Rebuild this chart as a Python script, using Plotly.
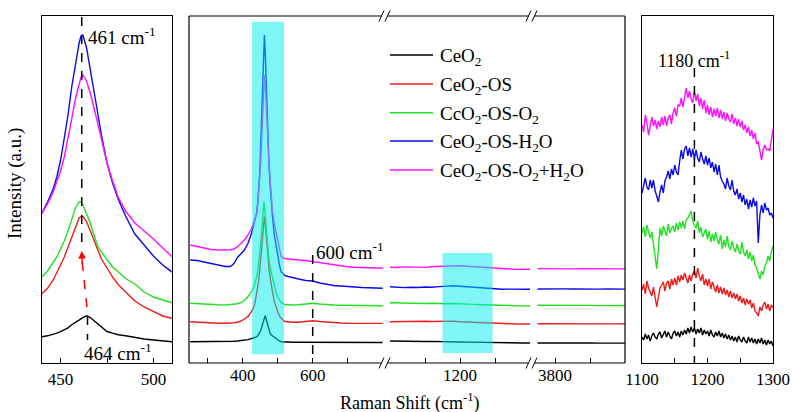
import plotly.graph_objects as go

# ---------------- data ----------------
# Raman shift sampling (cm-1) of the low-frequency window (F2g band)
shift_low = [250, 270, 290, 310, 330, 350, 365, 375, 385, 395, 405, 415, 425, 432, 436,
             440, 443, 446, 448, 450, 452, 454, 456, 458, 460,
             461, 462, 464, 466, 468, 470, 472, 475, 478, 481,
             485, 490, 495, 500, 505, 510,
             520, 530, 545, 560, 580, 600, 620, 640, 660, 680, 700, 720, 740, 760, 780, 800]

black_low = [21.3, 21.3, 21.2, 21.2, 21.3, 21.4, 21.5, 21.7, 22.0, 22.3, 22.8, 23.4, 24.3, 25.0, 25.6,
             26.3, 27.2, 28.6, 29.8, 31.3, 33.0, 35.2, 38.3, 41.0, 43.3,
             44.2, 45.4, 47.2, 45.5, 42.5, 39.0, 36.0, 31.5, 29.8, 28.3,
             27.2, 25.4, 24.0, 23.0, 22.0, 21.3,
             21.0, 20.9, 20.8, 20.8, 20.8, 20.8, 20.7, 20.7, 20.7, 20.7, 20.6, 20.6, 20.6, 20.6, 20.6, 20.5]
red_low = [41.3, 40.8, 40.4, 40.1, 39.8, 39.7, 39.8, 40.2, 40.8, 42.0, 44.0, 46.3, 51.3, 56.3, 62.0,
           69.7, 74.7, 83.0, 90.0, 98.0, 106.0, 116.0, 127.0, 137.0, 145.0,
           146.3, 146.5, 141.5, 132.0, 122.0, 112.0, 104.0, 95.0, 86.0, 78.5,
           71.5, 62.0, 56.0, 51.5, 47.0, 44.7,
           41.5, 41.0, 40.7, 40.8, 41.5, 42.3, 41.5, 40.8, 40.3, 40.0, 39.7, 39.7, 39.7, 39.6, 39.6, 39.6]
green_low = [59.7, 59.2, 58.8, 58.5, 58.2, 58.0, 58.3, 58.8, 59.3, 60.5, 62.5, 66.3, 71.3, 76.3, 81.0,
             86.3, 92.0, 99.7, 106.0, 114.0, 122.0, 132.0, 143.0, 155.0, 161.0,
             161.3, 158.5, 150.0, 139.7, 128.0, 117.0, 111.0, 103.0, 96.0, 91.3,
             84.5, 79.0, 71.0, 66.0, 63.0, 60.3,
             58.5, 58.0, 58.0, 58.3, 59.0, 59.7, 59.0, 58.3, 58.0, 57.8, 57.7, 57.5, 57.4, 57.3, 57.3, 57.3]
blue_low = [103.0, 102.5, 101.0, 99.5, 97.5, 96.5, 96.5, 99.5, 105.5, 109.5, 113.0, 119.5, 129.5, 139.0, 145.0,
            150.0, 161.0, 174.0, 186.0, 203.0, 225.0, 248.0, 276.0, 300.0, 320.0,
            327.0, 328.0, 315.0, 292.0, 272.0, 250.0, 228.0, 200.0, 180.0, 164.0,
            147.0, 129.0, 118.0, 107.0, 98.0, 91.0,
            87.5, 86.5, 85.0, 84.0, 82.5, 82.0, 80.0, 78.5, 77.5, 77.0, 76.3, 76.0, 75.5, 75.2, 75.0, 74.7]
magenta_low = [118.0, 116.5, 114.5, 113.5, 113.0, 113.0, 113.2, 114.0, 116.3, 119.5, 123.0, 128.0, 134.5, 141.0, 145.5,
               150.0, 159.0, 171.0, 181.0, 192.0, 206.0, 224.0, 244.0, 264.0, 280.0,
               286.0, 288.0, 282.0, 270.0, 256.0, 240.0, 224.0, 200.0, 182.0, 166.0,
               152.0, 140.0, 132.0, 124.0, 115.0, 106.3,
               104.5, 104.0, 103.5, 103.0, 102.5, 101.5, 100.0, 98.8, 97.8, 97.0, 96.3, 95.8, 95.4, 95.0, 94.8, 94.7]

# 1000-1400 cm-1 window
shift_mid = [1000, 1020, 1040, 1060, 1080, 1100, 1120, 1140, 1160, 1180, 1200,
             1220, 1240, 1260, 1280, 1300, 1320, 1340, 1360, 1380, 1400]
black_mid = [22.0, 21.8, 21.9, 21.6, 21.7, 21.5, 21.6, 21.3, 21.4, 21.2, 21.0,
             20.9, 20.7, 20.5, 20.4, 20.3, 20.2, 20.1, 20.2, 20.0, 20.0]
red_mid = [41.3, 41.5, 41.2, 41.6, 41.4, 41.7, 41.5, 41.8, 41.7, 41.9, 41.3,
           41.0, 40.6, 40.1, 39.7, 39.3, 39.0, 39.2, 39.0, 39.1, 39.0]
green_mid = [60.3, 60.0, 59.8, 60.1, 59.7, 59.5, 59.8, 59.4, 59.3, 59.5, 59.0,
             58.8, 58.6, 58.3, 58.0, 57.8, 57.6, 57.4, 57.2, 57.1, 57.0]
blue_mid = [76.3, 75.9, 75.4, 75.8, 75.5, 76.0, 75.8, 76.4, 76.9, 77.3, 76.8,
            76.2, 75.6, 75.0, 74.4, 74.0, 73.7, 73.9, 73.6, 73.8, 73.7]
magenta_mid = [95.8, 95.5, 96.1, 95.7, 96.0, 95.6, 96.2, 96.5, 97.0, 97.4, 97.2,
               96.8, 96.3, 95.6, 95.0, 94.3, 93.8, 94.0, 93.6, 93.9, 93.7]

# 3750-4000 cm-1 window
shift_high = [3750, 3775, 3800, 3825, 3850, 3875, 3900, 3925, 3950, 3975, 4000]
black_high = [20.0, 20.1, 19.9, 20.0, 20.1, 19.9, 20.0, 19.9, 20.0, 20.0, 19.9]
red_high = [39.3, 39.2, 39.4, 39.3, 39.2, 39.3, 39.1, 39.3, 39.2, 39.1, 39.2]
green_high = [57.7, 57.8, 57.6, 57.7, 57.5, 57.7, 57.6, 57.4, 57.6, 57.5, 57.5]
blue_high = [74.0, 74.2, 73.9, 74.1, 74.0, 73.8, 74.1, 73.9, 74.0, 73.8, 73.9]
magenta_high = [94.4, 94.2, 94.5, 94.3, 94.1, 94.4, 94.2, 94.3, 94.0, 94.2, 94.1]

# Expanded 1100-1300 cm-1 region (sampled every 2.5 cm-1)
shift_zoom = [1100 + 2.5 * i for i in range(81)]
black_zoom = [26, 23, 29, 24, 28, 22, 27, 30, 26, 24,
              29, 31, 25, 29, 32, 26, 31, 27, 24, 30,
              32, 27, 31, 26, 32, 28, 33, 29, 35, 30,
              36, 31, 35, 29, 34, 30, 35, 28, 33, 29,
              32, 27, 33, 28, 26, 31, 27, 32, 26, 30,
              25, 29, 24, 28, 23, 27, 22, 26, 21, 27,
              23, 21, 26, 22, 20, 26, 21, 25, 20, 24,
              19, 24, 20, 25, 19, 23, 18, 23, 19, 22, 17]
red_zoom = [73, 79, 69, 82, 75, 70, 67, 76, 64, 56,
            66, 75, 78, 81, 72, 80, 82, 74, 84, 78,
            85, 78, 87, 81, 88, 83, 90, 84, 80, 88,
            82, 89, 92, 85, 95, 87, 82, 89, 78, 84,
            77, 84, 74, 81, 76, 71, 78, 70, 76, 69,
            75, 68, 73, 66, 72, 65, 70, 64, 69, 62,
            67, 60, 65, 58, 64, 59, 63, 55, 60, 52,
            50, 47, 56, 52, 58, 61, 54, 59, 52, 58, 55]
green_zoom = [130, 136, 126, 138, 131, 125, 131, 120, 108, 94,
              114, 135, 127, 137, 132, 127, 139, 130, 135, 137,
              131, 140, 133, 141, 135, 142, 134, 143, 145, 148,
              152, 142, 137, 135, 142, 130, 136, 126, 131, 134,
              124, 132, 121, 129, 122, 131, 123, 119, 128, 114,
              123, 116, 127, 117, 113, 122, 115, 111, 119, 112,
              109, 121, 111, 107, 113, 104, 111, 102, 108, 98,
              95, 90, 84, 92, 88, 97, 100, 107, 102, 111, 117]
blue_zoom = [170, 178, 185, 176, 173, 183, 175, 183, 172, 167,
             161, 171, 178, 170, 182, 186, 192, 184, 194, 188,
             198, 191, 188, 202, 213, 204, 214, 217, 207, 215,
             206, 214, 204, 213, 205, 201, 211, 204, 199, 207,
             198, 205, 195, 201, 191, 199, 188, 198, 186, 182,
             179, 174, 185, 177, 173, 183, 172, 168, 174, 164,
             170, 161, 168, 158, 164, 154, 163, 156, 165, 157,
             162, 120, 148, 158, 150, 160, 153, 155, 148, 150, 145]
magenta_zoom = [238, 231, 248, 240, 228, 238, 246, 237, 243, 234,
                242, 236, 246, 238, 247, 237, 245, 248, 239, 250,
                255, 247, 258, 257, 265, 256, 268, 275, 265, 272,
                264, 260, 272, 262, 269, 257, 265, 254, 263, 250,
                258, 248, 256, 246, 254, 247, 255, 245, 253, 244,
                251, 242, 250, 244, 241, 249, 239, 245, 237, 244,
                236, 242, 233, 238, 230, 236, 227, 233, 224, 230,
                220, 221, 212, 203, 213, 218, 213, 214, 212, 221, 234]

names = ["CeO<sub>2</sub>", "CeO<sub>2</sub>-OS", "CcO<sub>2</sub>-OS-O<sub>2</sub>",
         "CeO<sub>2</sub>-OS-H<sub>2</sub>O", "CeO<sub>2</sub>-OS-O<sub>2</sub>+H<sub>2</sub>O"]
colors = ["#000000", "#ee1c1c", "#22e022", "#0a0ae6", "#ff10ff"]

low_sets = [black_low, red_low, green_low, blue_low, magenta_low]
mid_sets = [black_mid, red_mid, green_mid, blue_mid, magenta_mid]
high_sets = [black_high, red_high, green_high, blue_high, magenta_high]
zoom_sets = [black_zoom, red_zoom, green_zoom, blue_zoom, magenta_zoom]

# ---------------- layout geometry ----------------
W, H = 792, 412
SERIF = "Liberation Serif"


def fx(p):
    return p / W


def fy(p):
    return 1 - p / H


TOP, BOT = 16, 363
ydom = [fy(BOT), fy(TOP)]
YR = [0, 347]

fig = go.Figure()

panel_axes = [
    ("x", "y", shift_low, low_sets),      # left zoom on the F2g peak
    ("x2", "y2", shift_low, low_sets),    # broken axis, part 1
    ("x3", "y2", shift_mid, mid_sets),    # broken axis, part 2
    ("x4", "y2", shift_high, high_sets),  # broken axis, part 3
    ("x5", "y3", shift_zoom, zoom_sets),  # right zoom on 1180 cm-1
]
for xa, ya, xs, sets in panel_axes:
    for name, col, ys in zip(names, colors, sets):
        fig.add_trace(go.Scatter(x=xs, y=ys, mode="lines", name=name, showlegend=False,
                                 line=dict(color=col, width=1.4), xaxis=xa, yaxis=ya,
                                 hoverinfo="skip"))

tick_font = dict(family=SERIF, size=17, color="black")
common_x = dict(ticks="inside", ticklen=5, tickwidth=1, tickcolor="black", showgrid=False,
                zeroline=False, tickfont=tick_font, tickmode="array", ticklabelstandoff=0)
frame = dict(showline=True, mirror=True, linecolor="black", linewidth=1.2)
hidden_y = dict(range=YR, domain=ydom, showgrid=False, zeroline=False, showticklabels=False, ticks="")

fig.update_layout(
    width=W, height=H, margin=dict(l=0, r=0, t=0, b=0, autoexpand=False),
    paper_bgcolor="white", plot_bgcolor="white",
    font=dict(family=SERIF, color="black"),
    xaxis=dict(domain=[fx(42), fx(172)], range=[440, 510], anchor="y",
               tickvals=[450, 475, 500], ticktext=["450", "", "500"], **common_x, **frame),
    yaxis=dict(anchor="x", **hidden_y, **frame),
    xaxis2=dict(domain=[fx(189), fx(385)], range=[246.6, 806.6], anchor="y2",
                tickvals=[300, 400, 500, 600, 700], ticktext=["", "400", "", "600", ""],
                showline=False, **common_x),
    xaxis3=dict(domain=[fx(385), fx(532)], range=[985.7, 1405.7], anchor="y2",
                tickvals=[1100, 1200, 1300], ticktext=["", "1200", ""],
                showline=False, **common_x),
    xaxis4=dict(domain=[fx(532), fx(625)], range=[3734.3, 4000], anchor="y2",
                tickvals=[3800, 3900], ticktext=["3800", ""],
                showline=False, **common_x),
    yaxis2=dict(anchor="x2", showline=False, **hidden_y),
    xaxis5=dict(domain=[fx(642), fx(773)], range=[1100, 1300], anchor="y3",
                tickvals=[1100, 1150, 1200, 1250, 1300], ticktext=["1100", "", "1200", "", "1300"],
                **common_x, **frame),
    yaxis3=dict(anchor="x5", **hidden_y, **frame),
)

shapes = []
# frame of the broken-axis panel, with gaps at the breaks
black_line = dict(color="black", width=1.2)
for yp in (TOP, BOT):
    for x0, x1 in ((189, 381.5), (387.5, 528.5), (534.5, 625)):
        shapes.append(dict(type="line", xref="paper", yref="paper", x0=fx(x0), x1=fx(x1),
                           y0=fy(yp), y1=fy(yp), line=black_line))
    for c in (385, 532):
        for off in (-3.5, 2.5):
            shapes.append(dict(type="line", xref="paper", yref="paper",
                               x0=fx(c + off - 2.5), x1=fx(c + off + 2.5),
                               y0=fy(yp + 5.5), y1=fy(yp - 5.5), line=dict(color="black", width=1)))
for xp in (189, 625):
    shapes.append(dict(type="line", xref="paper", yref="paper", x0=fx(xp), x1=fx(xp),
                       y0=fy(BOT), y1=fy(TOP), line=black_line))

# highlighted bands
band = dict(type="rect", layer="above", line=dict(width=0), fillcolor="rgba(0,235,235,0.5)")
shapes.append(dict(band, xref="x2", yref="y2", x0=427, x1=518, y0=8.7, y1=341.3))
shapes.append(dict(band, xref="x3", yref="y2", x0=1150, x1=1293, y0=10, y1=110))

# guide lines
dash = dict(color="black", width=1.5, dash="dash")
shapes.append(dict(type="line", xref="x", yref="y", x0=461.4, x1=461.4, y0=346, y1=113, line=dash))
shapes.append(dict(type="line", xref="x", yref="y", x0=464.5, x1=464.5, y0=47, y1=23, line=dash))
shapes.append(dict(type="line", xref="x", yref="y", x0=464.2, x1=461.6, y0=56, y1=102,
                   line=dict(color="red", width=1.5, dash="dash")))
shapes.append(dict(type="line", xref="x2", yref="y2", x0=600, x1=600, y0=108, y1=0, line=dash))
shapes.append(dict(type="line", xref="x5", yref="y3", x0=1180, x1=1180, y0=295, y1=0, line=dash))

# legend keys
legend_rows = [55, 84, 112.7, 141, 170]
for col, yp in zip(colors, legend_rows):
    shapes.append(dict(type="line", xref="paper", yref="paper", x0=fx(390), x1=fx(433),
                       y0=fy(yp), y1=fy(yp), line=dict(color=col, width=1.4)))
fig.update_layout(shapes=shapes)

ann_font = dict(family=SERIF, size=19, color="black")
annotations = [
    dict(xref="x", yref="y", x=461.4, y=112, ax=461.7, ay=97, axref="x", ayref="y",
         showarrow=True, arrowhead=2, arrowsize=1, arrowwidth=1.5, arrowcolor="red", text=""),
    dict(xref="x", yref="y", x=461.4, y=327, xanchor="left", yanchor="middle", xshift=4,
         text="461 cm<sup>-1</sup>", showarrow=False, font=ann_font),
    dict(xref="x", yref="y", x=464.5, y=11, xanchor="left", yanchor="middle", xshift=-6,
         text="464 cm<sup>-1</sup>", showarrow=False, font=ann_font),
    dict(xref="x2", yref="y2", x=600, y=112, xanchor="left", yanchor="middle", xshift=1,
         text="600 cm<sup>-1</sup>", showarrow=False, font=ann_font),
    dict(xref="x5", yref="y3", x=1180, y=303, xanchor="center", yanchor="middle",
         text="1180 cm<sup>-1</sup>", showarrow=False, font=dict(family=SERIF, size=18, color="black")),
    dict(xref="paper", yref="paper", x=fx(15), y=fy(184), textangle=-90, showarrow=False,
         text="Intensity (a.u.)", font=ann_font, xanchor="center", yanchor="middle"),
    dict(xref="paper", yref="paper", x=fx(409), y=fy(402), showarrow=False,
         text="Raman Shift (cm<sup>-1</sup>)", font=dict(family=SERIF, size=18, color="black"),
         xanchor="center", yanchor="middle"),
]
for name, yp in zip(names, legend_rows):
    annotations.append(dict(xref="paper", yref="paper", x=fx(438), y=fy(yp), xanchor="left",
                            yanchor="middle", yshift=-2, showarrow=False, text=name,
                            font=ann_font))
fig.update_layout(annotations=annotations)

fig.write_html("out.html")
